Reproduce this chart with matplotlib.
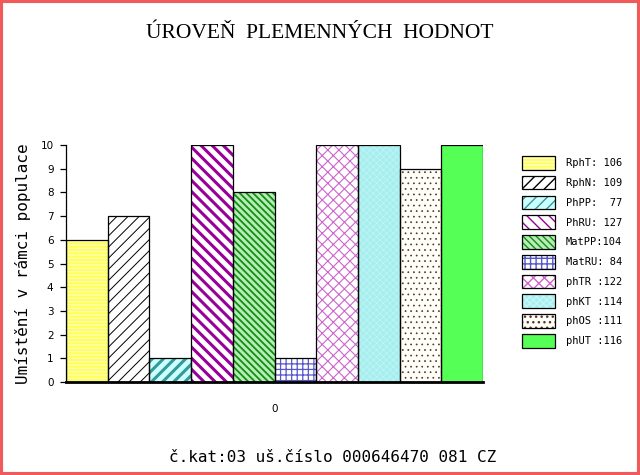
import matplotlib
matplotlib.use("Agg")
import matplotlib.pyplot as plt
from matplotlib.patches import Rectangle
from matplotlib.legend_handler import HandlerTuple

# ---- data ----
codes = ["RphT", "RphN", "PhPP", "PhRU", "MatPP", "MatRU", "phTR", "phKT", "phOS", "phUT"]
legend_labels = ["RphT: 106", "RphN: 109", "PhPP:  77", "PhRU: 127", "MatPP:104",
                 "MatRU: 84", "phTR :122", "phKT :114", "phOS :111", "phUT :116"]
values = [6, 7, 1, 10, 8, 1, 10, 10, 9, 10]
yticks = list(range(0, 11))
xtick_label = "0"
title = "ÚROVEŇ  PLEMENNÝCH  HODNOT"
ylabel = "Umístění v rámci populace"
footer = "č.kat:03 uš.číslo 000646470 081 CZ"

# ---- styles (face, hatch, hatch colour, hatch linewidth) ----
styles = [
    ("#ffff5a", "-----", "#ffffcc", 0.75),
    ("#ffffff", "///", "#000000", 0.7),
    ("#ccffff", "///", "#339999", 2.2),
    ("#ffffff", "\\\\\\", "#990099", 2.2),
    ("#b8ecb8", "\\\\\\\\\\", "#108f10", 1.3),
    ("#ffffff", "+++", "#5555cc", 0.9),
    ("#ffffff", "xxx", "#cc66cc", 0.8),
    ("#a8eeee", "xxxxx", "#c4f8f8", 0.4),
    ("#fffff8", "...", "#553333", 0.5),
    ("#55ff55", "", "#55ff55", 0.5),
]

fig = plt.figure(figsize=(6.4, 4.75), dpi=100)
fig.patch.set_facecolor("white")
ax = fig.add_axes([66 / 640, 1 - 382 / 475, (483 - 66) / 640, (382 - 145) / 475])

handles = []
for i, (v, st) in enumerate(zip(values, styles)):
    face, hatch, hcol, hlw = st
    if hasattr(matplotlib.patches.Patch, "set_hatch_linewidth"):
        b = ax.bar(i, v, width=1.0, align="edge", color=face, edgecolor=hcol,
                   hatch=hatch, linewidth=0, zorder=2)
        for p in b:
            p.set_hatch_linewidth(hlw)
    else:
        with plt.rc_context({"hatch.linewidth": hlw}):
            b = ax.bar(i, v, width=1.0, align="edge", color=face, edgecolor=hcol,
                       hatch=hatch, linewidth=0, zorder=2)
    o = ax.bar(i, v, width=1.0, align="edge", facecolor="none", edgecolor="black",
               linewidth=0.9, zorder=3)
    # legend proxies
    hp = Rectangle((0, 0), 1, 1, facecolor=face, edgecolor=hcol, hatch=hatch, linewidth=0)
    if hasattr(hp, "set_hatch_linewidth"):
        hp.set_hatch_linewidth(hlw)
    op = Rectangle((0, 0), 1, 1, facecolor="none", edgecolor="black", linewidth=0.9)
    handles.append((hp, op))

ax.set_xlim(0, len(values))
ax.set_ylim(0, 10)
ax.set_yticks(yticks)
ax.set_yticklabels([str(t) for t in yticks], fontsize=7.5, family="DejaVu Sans")
ax.set_xticks([len(values) / 2])
ax.set_xticklabels([xtick_label], fontsize=7.5, family="DejaVu Sans")
ax.tick_params(axis="x", length=0, pad=16)
ax.tick_params(axis="y", length=4, width=0.9, pad=5)
for s in ("top", "right"):
    ax.spines[s].set_visible(False)
ax.spines["left"].set_linewidth(0.9)
ax.spines["bottom"].set_linewidth(2.0)
ax.spines["bottom"].set_zorder(4)
ax.set_facecolor("white")

ax.set_ylabel(ylabel, fontsize=11.5, family="DejaVu Sans Mono")
ax.yaxis.set_label_coords(-0.085, 0.5)

fig.text(0.5, 1 - 33 / 475, title, ha="center", va="center",
         fontsize=15.5, family="Liberation Serif")
fig.text(333 / 640, 1 - 457 / 475, footer, ha="center", va="center",
         fontsize=11.5, family="DejaVu Sans Mono")

leg = fig.legend(handles, legend_labels, handler_map={tuple: HandlerTuple(ndivide=1, pad=0)},
                 loc="upper left", bbox_to_anchor=(522 / 640, 1 - 156 / 475),
                 bbox_transform=fig.transFigure, frameon=False,
                 prop={"family": "DejaVu Sans Mono", "size": 7.5},
                 handlelength=3.2, handleheight=1.65, labelspacing=0.58,
                 handletextpad=1.0, borderpad=0, borderaxespad=0)

fig.patches.append(Rectangle((0, 0), 1, 1, transform=fig.transFigure, fill=False,
                             edgecolor="#f05a5a", linewidth=4.4, zorder=10))

fig.savefig("out.png", dpi=100, facecolor="white")
